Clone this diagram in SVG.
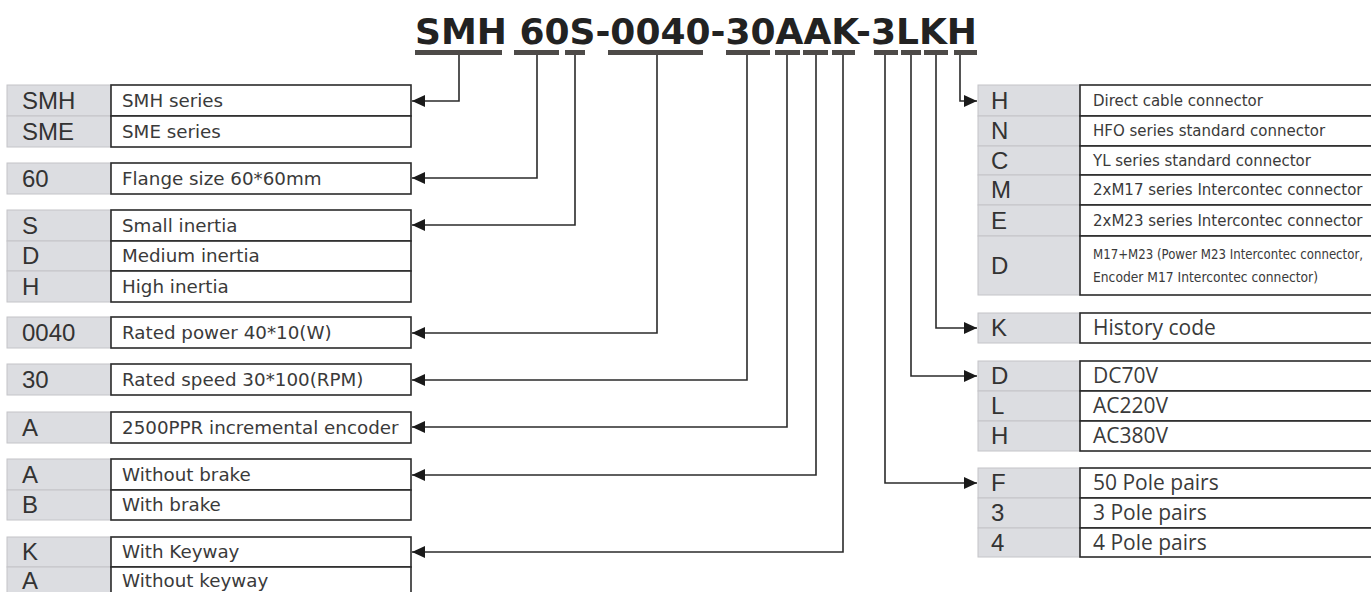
<svg xmlns="http://www.w3.org/2000/svg" width="1371" height="592" viewBox="0 0 1371 592">
<style>
.bg{fill:#ffffff}
.title{font-family:"DejaVu Sans",Verdana,sans-serif;font-weight:bold;font-size:36px;fill:#222}
.bar{fill:#4d4a48}
.code{fill:#dcdde1;stroke:#c4c4c8;stroke-width:1}
.desc{fill:#ffffff;stroke:#2b2b2b;stroke-width:1.6}
.ct{font-family:"Liberation Sans",Arial,sans-serif;font-size:24px;fill:#333}
.dt{font-family:"DejaVu Sans",Verdana,sans-serif;font-size:18.3px;fill:#3a3a3a}
.st{font-family:"DejaVu Sans",Verdana,sans-serif;font-size:15px;fill:#3a3a3a}
.xt{font-family:"DejaVu Sans",Verdana,sans-serif;font-size:13.5px;fill:#3a3a3a}
.ot{font-family:"Open Sans","Noto Sans",sans-serif;font-size:21px;fill:#3a3a3a}
.conn{fill:none;stroke:#2b2b2b;stroke-width:1.6}
</style>
<defs>
<marker id="arr" markerUnits="userSpaceOnUse" markerWidth="14" markerHeight="14" refX="13" refY="6" orient="auto">
<path d="M0,0 L13,6 L0,12 z" fill="#1a1a1a"/>
</marker>
</defs>
<rect class="bg" x="0" y="0" width="1371" height="592"/>

<g id="title">
<text class="title" x="415" y="44" textLength="562" lengthAdjust="spacingAndGlyphs">SMH 60S-0040-30AAK-3LKH</text>
<rect class="bar" x="415" y="50" width="87" height="5"/>
<rect class="bar" x="514" y="50" width="45" height="5"/>
<rect class="bar" x="565" y="50" width="20" height="5"/>
<rect class="bar" x="608" y="50" width="95" height="5"/>
<rect class="bar" x="726" y="50" width="44" height="5"/>
<rect class="bar" x="775" y="50" width="25" height="5"/>
<rect class="bar" x="803" y="50" width="25" height="5"/>
<rect class="bar" x="832" y="50" width="23" height="5"/>
<rect class="bar" x="874" y="50" width="24" height="5"/>
<rect class="bar" x="901" y="50" width="20" height="5"/>
<rect class="bar" x="924" y="50" width="24" height="5"/>
<rect class="bar" x="954" y="50" width="23" height="5"/>
</g>

<g id="connectors">
<path class="conn" marker-end="url(#arr)" d="M459,55 V101 H412"/>
<path class="conn" marker-end="url(#arr)" d="M537,55 V178 H412"/>
<path class="conn" marker-end="url(#arr)" d="M575,55 V225 H412"/>
<path class="conn" marker-end="url(#arr)" d="M657,55 V333 H412"/>
<path class="conn" marker-end="url(#arr)" d="M747,55 V380 H412"/>
<path class="conn" marker-end="url(#arr)" d="M787,55 V427 H412"/>
<path class="conn" marker-end="url(#arr)" d="M816,55 V475 H412"/>
<path class="conn" marker-end="url(#arr)" d="M843,55 V552 H412"/>
<path class="conn" marker-end="url(#arr)" d="M885,55 V483 H977"/>
<path class="conn" marker-end="url(#arr)" d="M911,55 V376 H977"/>
<path class="conn" marker-end="url(#arr)" d="M936,55 V328 H977"/>
<path class="conn" marker-end="url(#arr)" d="M960,55 V101 H977"/>
</g>

<g id="series">
<rect class="code" x="7" y="85" width="104" height="31"/>
<rect class="code" x="7" y="116" width="104" height="31"/>
<rect class="desc" x="111" y="85" width="300" height="31"/>
<rect class="desc" x="111" y="116" width="300" height="31"/>
<text class="ct" x="22" y="109">SMH</text>
<text class="ct" x="22" y="140">SME</text>
<text class="dt" x="122" y="107">SMH series</text>
<text class="dt" x="122" y="138">SME series</text>
</g>

<g id="flange">
<rect class="code" x="7" y="163" width="104" height="31"/>
<rect class="desc" x="111" y="163" width="300" height="31"/>
<text class="ct" x="22" y="187">60</text>
<text class="dt" x="122" y="185">Flange size 60*60mm</text>
</g>

<g id="inertia">
<rect class="code" x="7" y="210" width="104" height="31"/>
<rect class="code" x="7" y="241" width="104" height="30"/>
<rect class="code" x="7" y="271" width="104" height="31"/>
<rect class="desc" x="111" y="210" width="300" height="31"/>
<rect class="desc" x="111" y="241" width="300" height="30"/>
<rect class="desc" x="111" y="271" width="300" height="31"/>
<text class="ct" x="22" y="234">S</text>
<text class="ct" x="22" y="264">D</text>
<text class="ct" x="22" y="295">H</text>
<text class="dt" x="122" y="232">Small inertia</text>
<text class="dt" x="122" y="262">Medium inertia</text>
<text class="dt" x="122" y="293">High inertia</text>
</g>

<g id="power">
<rect class="code" x="7" y="317" width="104" height="31"/>
<rect class="desc" x="111" y="317" width="300" height="31"/>
<text class="ct" x="22" y="341">0040</text>
<text class="dt" x="122" y="339">Rated power 40*10(W)</text>
</g>

<g id="speed">
<rect class="code" x="7" y="364" width="104" height="31"/>
<rect class="desc" x="111" y="364" width="300" height="31"/>
<text class="ct" x="22" y="388">30</text>
<text class="dt" x="122" y="386">Rated speed 30*100(RPM)</text>
</g>

<g id="encoder">
<rect class="code" x="7" y="412" width="104" height="31"/>
<rect class="desc" x="111" y="412" width="300" height="31"/>
<text class="ct" x="22" y="436">A</text>
<text class="dt" x="122" y="434">2500PPR incremental encoder</text>
</g>

<g id="brake">
<rect class="code" x="7" y="459" width="104" height="31"/>
<rect class="code" x="7" y="490" width="104" height="30"/>
<rect class="desc" x="111" y="459" width="300" height="31"/>
<rect class="desc" x="111" y="490" width="300" height="30"/>
<text class="ct" x="22" y="483">A</text>
<text class="ct" x="22" y="513">B</text>
<text class="dt" x="122" y="481">Without brake</text>
<text class="dt" x="122" y="511">With brake</text>
</g>

<g id="keyway">
<rect class="code" x="7" y="537" width="104" height="30"/>
<rect class="code" x="7" y="567" width="104" height="31"/>
<rect class="desc" x="111" y="537" width="300" height="30"/>
<rect class="desc" x="111" y="567" width="300" height="31"/>
<text class="ct" x="22" y="560">K</text>
<text class="ct" x="22" y="589">A</text>
<text class="dt" x="122" y="558">With Keyway</text>
<text class="dt" x="122" y="587">Without keyway</text>
</g>

<g id="connector">
<rect class="code" x="978" y="85" width="102" height="31"/>
<rect class="code" x="978" y="116" width="102" height="30"/>
<rect class="code" x="978" y="146" width="102" height="29"/>
<rect class="code" x="978" y="175" width="102" height="30"/>
<rect class="code" x="978" y="205" width="102" height="31"/>
<rect class="code" x="978" y="236" width="102" height="59"/>
<rect class="desc" x="1080" y="85" width="300" height="31"/>
<rect class="desc" x="1080" y="116" width="300" height="30"/>
<rect class="desc" x="1080" y="146" width="300" height="29"/>
<rect class="desc" x="1080" y="175" width="300" height="30"/>
<rect class="desc" x="1080" y="205" width="300" height="31"/>
<rect class="desc" x="1080" y="236" width="300" height="59"/>
<text class="ct" x="991" y="109">H</text>
<text class="ct" x="991" y="139">N</text>
<text class="ct" x="991" y="169">C</text>
<text class="ct" x="991" y="198">M</text>
<text class="ct" x="991" y="229">E</text>
<text class="ct" x="991" y="274">D</text>
<text class="st" x="1093" y="106">Direct cable connector</text>
<text class="st" x="1093" y="136">HFO series standard connector</text>
<text class="st" x="1093" y="166">YL series standard connector</text>
<text class="st" x="1093" y="195">2xM17 series Intercontec connector</text>
<text class="st" x="1093" y="226">2xM23 series Intercontec connector</text>
<text class="xt" x="1093" y="259" textLength="270" lengthAdjust="spacingAndGlyphs">M17+M23 (Power M23 Intercontec connector,</text>
<text class="xt" x="1093" y="282" textLength="225" lengthAdjust="spacingAndGlyphs">Encoder M17 Intercontec connector)</text>
</g>

<g id="history">
<rect class="code" x="978" y="313" width="102" height="30"/>
<rect class="desc" x="1080" y="313" width="300" height="30"/>
<text class="ct" x="991" y="336">K</text>
<text class="ot" x="1093" y="335">History code</text>
</g>

<g id="voltage">
<rect class="code" x="978" y="361" width="102" height="30"/>
<rect class="code" x="978" y="391" width="102" height="30"/>
<rect class="code" x="978" y="421" width="102" height="30"/>
<rect class="desc" x="1080" y="361" width="300" height="30"/>
<rect class="desc" x="1080" y="391" width="300" height="30"/>
<rect class="desc" x="1080" y="421" width="300" height="30"/>
<text class="ct" x="991" y="384">D</text>
<text class="ct" x="991" y="414">L</text>
<text class="ct" x="991" y="444">H</text>
<text class="ot" x="1093" y="383">DC70V</text>
<text class="ot" x="1093" y="413">AC220V</text>
<text class="ot" x="1093" y="443">AC380V</text>
</g>

<g id="poles">
<rect class="code" x="978" y="468" width="102" height="30"/>
<rect class="code" x="978" y="498" width="102" height="30"/>
<rect class="code" x="978" y="528" width="102" height="29"/>
<rect class="desc" x="1080" y="468" width="300" height="30"/>
<rect class="desc" x="1080" y="498" width="300" height="30"/>
<rect class="desc" x="1080" y="528" width="300" height="29"/>
<text class="ct" x="991" y="491">F</text>
<text class="ct" x="991" y="521">3</text>
<text class="ct" x="991" y="551">4</text>
<text class="ot" x="1093" y="490">50 Pole pairs</text>
<text class="ot" x="1093" y="520">3 Pole pairs</text>
<text class="ot" x="1093" y="550">4 Pole pairs</text>
</g>
</svg>
